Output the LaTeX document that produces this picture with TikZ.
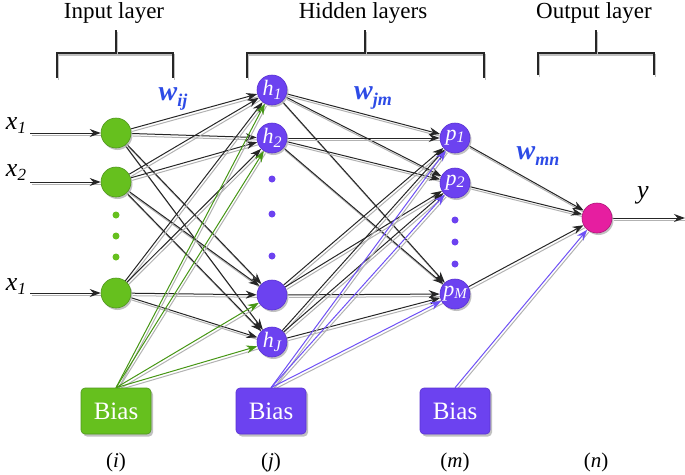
\documentclass[tikz,border=0pt]{standalone}
\usepackage{fontspec}
\setmainfont{Liberation Serif}
\usetikzlibrary{arrows.meta,shadows,backgrounds}
\definecolor{ngreen}{RGB}{102,192,30}
\definecolor{ngreenD}{RGB}{80,150,30}
\definecolor{npurple}{RGB}{108,66,240}
\definecolor{npurpleD}{RGB}{90,50,210}
\definecolor{npink}{RGB}{230,30,160}
\definecolor{wblue}{RGB}{45,75,230}
\definecolor{lgreen}{RGB}{70,150,20}
\definecolor{lpurple}{RGB}{110,80,245}
\newcommand{\mysub}[3][-4pt]{\raisebox{#1}{\fontsize{#2}{#2}\selectfont #3}}
\begin{document}
\begin{tikzpicture}[x=1pt,y=-1pt,
  neuron/.style={circle, minimum size=30pt, inner sep=0pt, line width=0.6pt,
    drop shadow={shadow xshift=1.5pt,shadow yshift=-2pt,fill=black!30,opacity=0.8},
    text=white, font=\fontsize{22}{22}\selectfont\itshape},
  gnode/.style={neuron, fill=ngreen, draw=ngreenD},
  pnode/.style={neuron, fill=npurple, draw=npurpleD},
  onode/.style={neuron, fill=npink, draw=npink!75!black},
  gdot/.style={circle, fill=ngreen, minimum size=7pt, inner sep=0pt},
  pdot/.style={circle, fill=npurple, minimum size=7pt, inner sep=0pt},
  biasbox/.style={rectangle, rounded corners=4pt, minimum width=70pt, minimum height=46pt,
    text=white, font=\fontsize{25}{25}\selectfont, line width=0.6pt,
    drop shadow={shadow xshift=2pt,shadow yshift=-2.5pt,fill=black!30,opacity=0.8}},
  wire/.style={draw=black!85, line width=1pt, -{Stealth[length=11pt,width=8pt]},
    preaction={draw=black!30, line width=1pt, -, transform canvas={shift={(1.5pt,-2.5pt)}}}},
  gwire/.style={wire, draw=lgreen, -{Stealth[length=11pt,width=8pt]}},
  pwire/.style={wire, draw=lpurple, -{Stealth[length=11pt,width=8pt]}},
  bracket/.style={line width=1.8pt, draw=black!85,
    preaction={draw=black!25, line width=1.8pt, transform canvas={shift={(1.5pt,-2pt)}}}},
  title/.style={font=\fontsize{23}{23}\selectfont, inner sep=0pt},
  inlab/.style={font=\fontsize{26}{26}\selectfont\itshape, inner sep=0pt},
  wlab/.style={font=\fontsize{28}{28}\selectfont\bfseries\itshape, text=wblue, inner sep=0pt},
  caplab/.style={font=\fontsize{21}{21}\selectfont, inner sep=0pt}
]
\useasboundingbox (0,0) rectangle (685,474);

% titles and brackets
\node[title] (t1) at (114,13) {Input layer};
\node[title] (t2) at (363,13) {Hidden layers};
\node[title] (t3) at (594,13) {Output layer};
\draw[bracket] (57,78) -- (57,53) -- (173,53) -- (173,78);
\draw[bracket] (116,53) -- (116,30);
\draw[bracket] (247,78) -- (247,53) -- (484,53) -- (484,78);
\draw[bracket] (365,53) -- (365,30);
\draw[bracket] (538,75) -- (538,53) -- (654,53) -- (654,75);
\draw[bracket] (596,53) -- (596,30);

% input layer
\node[gnode] (i1) at (116,133) {};
\node[gnode] (i2) at (116,182) {};
\node[gnode] (i3) at (116,293) {};
\node[gdot] (gd1) at (116,215) {};
\node[gdot] (gd2) at (116,236) {};
\node[gdot] (gd3) at (116,257) {};

% hidden layer
\node[pnode] (h1) at (272,90) {h\mysub{16}{1}};
\node[pnode] (h2) at (272,138) {h\mysub{16}{2}};
\node[pnode] (h3) at (272,295) {};
\node[pnode] (h4) at (272,342) {h\mysub{16}{J}};
\node[pdot] (hd1) at (272,179) {};
\node[pdot] (hd2) at (272,214) {};
\node[pdot] (hd3) at (272,256) {};

% second hidden layer
\node[pnode] (p1) at (455,138) {p\mysub[-2pt]{16}{1}};
\node[pnode] (p2) at (455,183) {p\mysub[-2pt]{16}{2}};
\node[pnode] (p3) at (455,294) {p\mysub[-2pt]{15}{M}};
\node[pdot] (pd1) at (455,220) {};
\node[pdot] (pd2) at (455,242) {};
\node[pdot] (pd3) at (455,264) {};

% output
\node[onode] (o) at (597,218) {};

% bias boxes
\node[biasbox, fill=ngreen, draw=ngreenD] (gb) at (116,411) {Bias};
\node[biasbox, fill=npurple, draw=npurpleD] (pb1) at (271,411) {Bias};
\node[biasbox, fill=npurple, draw=npurpleD] (pb2) at (455,411) {Bias};

% labels
\node[inlab] (x1) at (16,126) {x\mysub{17}{1}};
\node[inlab] (x2) at (16,173) {x\mysub{17}{2}};
\node[inlab] (x3) at (16,287) {x\mysub{17}{1}};
\node[inlab] (ylab) at (643,195) {y};
\node[wlab] (w1) at (173,99) {w\mysub[-6pt]{18}{ij}};
\node[wlab] (w2) at (373,98) {w\mysub[-6pt]{18}{jm}};
\node[wlab] (w3) at (538,156) {w\mysub[-6pt]{18}{mn}};
\node[caplab] (ci) at (116,462) {(\textit{i})};
\node[caplab] (cj) at (271,462) {(\textit{j})};
\node[caplab] (cm) at (455,462) {(\textit{m})};
\node[caplab] (cn) at (596,462) {(\textit{n})};

\coordinate (s1) at (30,133);
\coordinate (s2) at (30,182);
\coordinate (s3) at (30,293);
\coordinate (yend) at (685,218);

\begin{scope}[on background layer]
  \draw[wire] (s1) -- (i1);
  \draw[wire] (s2) -- (i2);
  \draw[wire] (s3) -- (i3);
  \foreach \a in {i1,i2,i3}
    \foreach \b in {h1,h2,h3,h4}
      \draw[wire] (\a) -- (\b);
  \foreach \a in {h1,h2,h3,h4}
    \foreach \b in {p1,p2,p3}
      \draw[wire] (\a) -- (\b);
  \foreach \a in {p1,p2,p3}
    \draw[wire] (\a) -- (o);
  \draw[wire] (o) -- (yend);
  \foreach \b in {h1,h2,h3,h4}
    \draw[gwire] (gb.north) -- (\b);
  \foreach \b in {p1,p2,p3}
    \draw[pwire] (pb1.north) -- (\b);
  \draw[pwire] (pb2.north) -- (o);
\end{scope}
\end{tikzpicture}
\end{document}
